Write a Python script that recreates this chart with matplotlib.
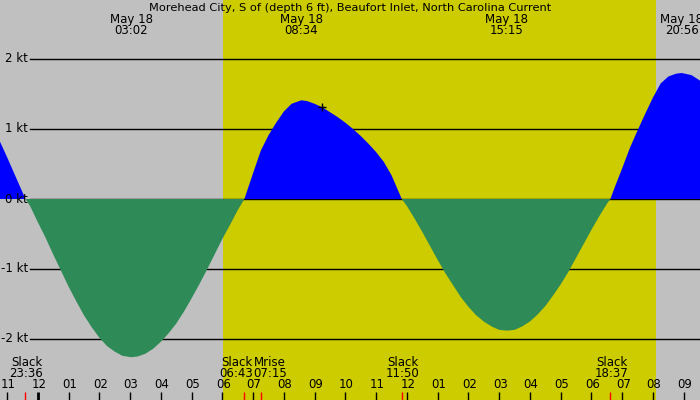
import matplotlib
matplotlib.use("Agg")
import matplotlib.pyplot as plt
import matplotlib.transforms as mtransforms
import numpy as np

# hours since 00:00 May 18, current speed in knots
times = [-1.25, -1.0, -0.75, -0.5, -0.4, -0.25, 0.0, 0.25, 0.5, 0.75, 1.0, 1.25, 1.5,
         1.75, 2.0, 2.25, 2.5, 2.75, 3.033, 3.25, 3.5, 3.75, 4.0, 4.25, 4.5, 4.75,
         5.0, 5.25, 5.5, 5.75, 6.0, 6.25, 6.5, 6.717, 7.0, 7.25, 7.5, 7.75, 8.0, 8.25,
         8.567, 8.75, 9.0, 9.25, 9.5, 9.75, 10.0, 10.25, 10.5, 10.75, 11.0, 11.25,
         11.5, 11.667, 11.833, 12.0, 12.25, 12.5, 12.75, 13.0, 13.25, 13.5, 13.75,
         14.0, 14.25, 14.5, 14.75, 15.0, 15.25, 15.5, 15.75, 16.0, 16.25, 16.5, 16.75,
         17.0, 17.25, 17.5, 17.75, 18.0, 18.25, 18.5, 18.617, 18.75, 19.0, 19.25,
         19.5, 19.75, 20.0, 20.25, 20.5, 20.75, 20.933, 21.25, 21.5, 21.75]
speeds = [0.84, 0.60, 0.35, 0.10, 0.0, -0.10, -0.33, -0.55, -0.79, -1.02, -1.25, -1.46,
          -1.66, -1.83, -1.98, -2.10, -2.18, -2.24, -2.26, -2.25, -2.21, -2.14, -2.04,
          -1.92, -1.78, -1.61, -1.42, -1.22, -1.01, -0.79, -0.57, -0.37, -0.16, 0.0,
          0.37, 0.69, 0.91, 1.09, 1.25, 1.36, 1.41, 1.40, 1.36, 1.31, 1.24, 1.17, 1.09,
          1.00, 0.90, 0.79, 0.67, 0.53, 0.34, 0.17, 0.0, -0.10, -0.28, -0.47, -0.67,
          -0.87, -1.06, -1.23, -1.40, -1.54, -1.66, -1.75, -1.82, -1.87, -1.88, -1.87,
          -1.82, -1.75, -1.65, -1.53, -1.38, -1.22, -1.04, -0.84, -0.64, -0.44, -0.25,
          -0.07, 0.0, 0.16, 0.44, 0.73, 0.98, 1.22, 1.45, 1.65, 1.75, 1.79, 1.80, 1.77,
          1.70, 1.62]

title = "Morehead City, S of (depth 6 ft), Beaufort Inlet, North Carolina Current"
peak_times = [3.033, 8.567, 15.25, 20.933]
peak_labels = ["03:02", "08:34", "15:15", "20:56"]
event_times = [-0.4, 6.717, 7.25, 11.833, 18.617]
event_names = ["Slack", "Slack", "Mrise", "Slack", "Slack"]
event_labels = ["23:36", "06:43", "07:15", "11:50", "18:37"]
sunrise, sunset = 6.03, 20.09
now_time, now_speed = 9.25, 1.31
kt_levels = [2, 1, 0, -1, -2]

GRAY = "#c0c0c0"
YELLOW = "#cccc00"
BLUE = "#0000ff"
GREEN = "#2e8b57"

W, H = 700, 400
px_per_hour = 30.76
x0 = -1.228
x1 = x0 + W / px_per_hour
px_per_kt = 70
zero_px = 199
y1 = zero_px / px_per_kt
y0 = -(H - zero_px) / px_per_kt

fig = plt.figure(figsize=(7, 4), dpi=100)
fig.patch.set_facecolor(GRAY)
ax = fig.add_axes([0, 0, 1, 1])
ax.set_facecolor(GRAY)
ax.set_xlim(x0, x1)
ax.set_ylim(y0, y1)
ax.axis("off")

fs = 8.5
ax.axvspan(sunrise, sunset, color=YELLOW, zorder=0, lw=0)

for lv in kt_levels:
    ax.axhline(lv, xmin=30 / W, xmax=1, color="black", lw=1, zorder=1)
    ax.text(x0 + 28 / px_per_hour, lv, f"{lv} kt", ha="right", va="center",
            fontsize=fs, zorder=5)

t = np.array(times)
v = np.array(speeds)
ax.fill_between(t, 0, v, where=v >= 0, interpolate=True, color=BLUE, lw=0, zorder=2)
ax.fill_between(t, 0, v, where=v <= 0, interpolate=True, color=GREEN, lw=0, zorder=2)

ax.plot([now_time], [now_speed], marker="+", color="black", ms=6, mew=1, zorder=4)

tr = mtransforms.blended_transform_factory(ax.transData, ax.transAxes)

def fy(py):
    return 1 - py / H

ax.text(0.5, fy(8), title, transform=ax.transAxes, ha="center", va="center", fontsize=8.2)
for pt, lab in zip(peak_times, peak_labels):
    ax.text(pt, fy(19), "May 18", transform=tr, ha="center", va="center", fontsize=fs)
    ax.text(pt, fy(31), lab, transform=tr, ha="center", va="center", fontsize=fs)

# the two labels around sunrise are pushed apart so they do not overlap
nudge = [1, -8, 9, 1, 1]
for et, name, lab, dx in zip(event_times, event_names, event_labels, nudge):
    xt = et + dx / px_per_hour
    ax.text(xt, fy(362), name, transform=tr, ha="center", va="center", fontsize=fs)
    ax.text(xt, fy(373.5), lab, transform=tr, ha="center", va="center", fontsize=fs)
    ax.vlines(et, 0, fy(392), transform=tr, color="red", lw=1, zorder=3)

for h in range(-1, 22):
    lab = f"{(h % 12) or 12:02d}"
    ax.text(h + 1 / px_per_hour, fy(385), lab, transform=tr, ha="center", va="center",
            fontsize=fs)
    ax.vlines(h, 0, fy(392), transform=tr, color="black", lw=2 if h == 0 else 1, zorder=3)

fig.savefig("out.png", dpi=100, facecolor=GRAY)
